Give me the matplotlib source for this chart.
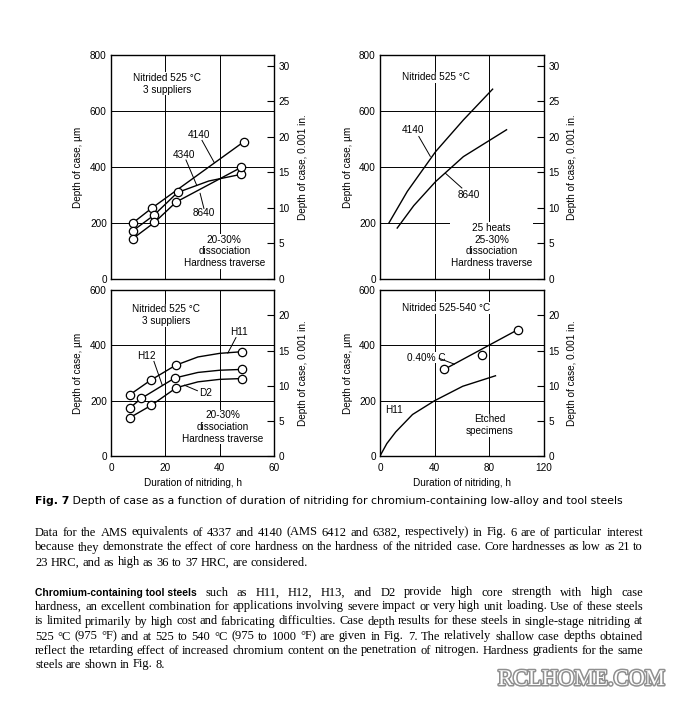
import matplotlib
matplotlib.use("Agg")
import matplotlib.pyplot as plt
import matplotlib.patheffects as pe

W, H = 676, 703

# ---- data (h, um) ----
# top left: low-alloy steels, 3 suppliers
tl_4140_h = [8, 15, 49]
tl_4140_um = [200, 253, 491]
tl_4340_h = [8, 15.7, 24.5, 48]
tl_4340_um = [172, 227, 309, 374]
tl_4340_curve_h = [8, 15.7, 24.5, 36, 48]
tl_4340_curve_um = [172, 227, 309, 350, 374]
tl_8640_h = [8, 16, 24, 48]
tl_8640_um = [144, 202, 275, 399]

# top right: 25 heats, curves only
tr_4140_h = [6.5, 20, 40.7, 61, 82.4]
tr_4140_um = [200, 313, 455, 568, 678]
tr_8640_h = [12.6, 24.7, 40.7, 61, 92.6]
tr_8640_um = [182, 262, 348, 437, 533]

# bottom left: tool steels
bl_h11_h = [7, 14.6, 23.8, 48.3]
bl_h11_um = [222, 274, 328, 377]
bl_h11_curve_h = [7, 14.6, 23.8, 32, 40, 48.3]
bl_h11_curve_um = [222, 274, 328, 358, 371, 377]
bl_h12_h = [7, 11.1, 23.5, 48.3]
bl_h12_um = [174, 208, 282, 313]
bl_h12_curve_h = [7, 11.1, 23.5, 32, 40, 48.3]
bl_h12_curve_um = [174, 208, 282, 302, 310, 313]
bl_d2_h = [7, 14.8, 24.1, 48.3]
bl_d2_um = [139, 183, 247, 280]
bl_d2_curve_h = [7, 14.8, 24.1, 32, 40, 48.3]
bl_d2_curve_um = [139, 183, 247, 268, 277, 280]

# bottom right: etched specimens
br_c40_h = [47, 74.7, 101]
br_c40_um = [313, 365, 457]
br_h11_h = [0, 5, 11.5, 23.8, 40, 60.5, 84.5]
br_h11_um = [0, 45, 87, 150, 200, 252, 290]

caption_bold = "Fig. 7"
caption_rest = " Depth of case as a function of duration of nitriding for chromium-containing low-alloy and tool steels"

para1 = [
    "Data for the AMS equivalents of 4337 and 4140 (AMS 6412 and 6382, respectively) in Fig. 6 are of particular interest",
    "because they demonstrate the effect of core hardness on the hardness of the nitrided case. Core hardnesses as low as 21 to",
    "23 HRC, and as high as 36 to 37 HRC, are considered.",
]
para2_bold = "Chromium-containing tool steels"
para2 = [
    "such as H11, H12, H13, and D2 provide high core strength with high case",
    "hardness, an excellent combination for applications involving severe impact or very high unit loading. Use of these steels",
    "is limited primarily by high cost and fabricating difficulties. Case depth results for these steels in single-stage nitriding at",
    "525 \u00b0C (975 \u00b0F) and at 525 to 540 \u00b0C (975 to 1000 \u00b0F) are given in Fig. 7. The relatively shallow case depths obtained",
    "reflect the retarding effect of increased chromium content on the penetration of nitrogen. Hardness gradients for the same",
    "steels are shown in Fig. 8.",
]

SANS = "Liberation Sans"
FS = 7.2

fig = plt.figure(figsize=(W / 100, H / 100), dpi=100)
renderer = fig.canvas.get_renderer()


def make_axes(x0, x1, y0, y1, xmax, ymax, xticks, bottom_labels):
    ax = fig.add_axes([x0 / W, 1 - y1 / H, (x1 - x0) / W, (y1 - y0) / H])
    ax.set_xlim(0, xmax)
    ax.set_ylim(0, ymax)
    ax.set_xticks(xticks)
    ax.set_yticks(range(0, ymax + 1, 200))
    ax.grid(True, color="black", lw=0.7)
    for s in ax.spines.values():
        s.set_linewidth(1.0)
    ax.tick_params(length=0, pad=3, labelsize=FS)
    if not bottom_labels:
        ax.set_xticklabels([])
    else:
        ax.tick_params(axis="x", pad=5)
    for lab in ax.get_xticklabels() + ax.get_yticklabels():
        lab.set_family(SANS)
    ax2 = ax.twinx()
    ax2.set_ylim(0, ymax / 25.4)
    ax2.set_yticks(range(0, int(ymax / 25.4) + 1, 5))
    ax2.tick_params(direction="in", length=5, width=0.8, pad=3, labelsize=FS)
    for lab in ax2.get_yticklabels():
        lab.set_family(SANS)
    for s in ax2.spines.values():
        s.set_visible(False)
    return ax


def label(ax, x, y, s, ls=1.25):
    ax.text(x, y, s, ha="center", va="center", fontsize=FS, family=SANS,
            linespacing=ls, zorder=5,
            bbox=dict(facecolor="white", edgecolor="none", pad=0.6))


def leader(ax, p0, p1):
    ax.plot([p0[0], p1[0]], [p0[1], p1[1]], color="black", lw=0.7, zorder=6)


def curve(ax, h, um):
    ax.plot(h, um, color="black", lw=1.0, zorder=3)


def circles(ax, h, um):
    ax.plot(h, um, "o", ms=6, mfc="white", mec="black", mew=0.9, zorder=4)


# ---- top left ----
ax = make_axes(111, 274, 55, 279, 60, 800, [20, 40], False)
curve(ax, tl_4140_h, tl_4140_um)
curve(ax, tl_4340_curve_h, tl_4340_curve_um)
curve(ax, tl_8640_h, tl_8640_um)
circles(ax, tl_4140_h, tl_4140_um)
circles(ax, tl_4340_h, tl_4340_um)
circles(ax, tl_8640_h, tl_8640_um)
label(ax, 20.6, 698, "Nitrided 525 \u00b0C\n3 suppliers")
label(ax, 32.5, 515, "4140")
leader(ax, (33.5, 495), (38, 416))
label(ax, 26.7, 443, "4340")
leader(ax, (27.6, 425), (31.5, 336))
label(ax, 34.3, 235, "8640")
leader(ax, (34.2, 252), (32.8, 306))
label(ax, 41.7, 99, "20-30%\ndissociation\nHardness traverse", 1.2)

# ---- top right ----
ax = make_axes(380, 544, 55, 279, 120, 800, [40, 80], False)
curve(ax, tr_4140_h, tr_4140_um)
curve(ax, tr_8640_h, tr_8640_um)
label(ax, 40.7, 720, "Nitrided 525 \u00b0C")
label(ax, 24, 532, "4140")
leader(ax, (28.4, 509), (36.8, 438))
label(ax, 64.7, 301, "8640")
leader(ax, (59.9, 325), (47.8, 378))
label(ax, 81.7, 120, "25 heats\n25-30%\ndissociation\nHardness traverse", 1.2)

# ---- bottom left ----
ax = make_axes(111, 274, 290, 456, 60, 600, [0, 20, 40, 60], True)
curve(ax, bl_h11_curve_h, bl_h11_curve_um)
curve(ax, bl_h12_curve_h, bl_h12_curve_um)
curve(ax, bl_d2_curve_h, bl_d2_curve_um)
circles(ax, bl_h11_h, bl_h11_um)
circles(ax, bl_h12_h, bl_h12_um)
circles(ax, bl_d2_h, bl_d2_um)
label(ax, 20.4, 508, "Nitrided 525 \u00b0C\n3 suppliers")
label(ax, 47.3, 447, "H11")
leader(ax, (46, 428), (43, 372))
label(ax, 13, 361, "H12")
leader(ax, (15.8, 342), (18.9, 255))
label(ax, 34.9, 226, "D2")
leader(ax, (31.8, 236), (27, 256))
label(ax, 41.1, 105, "20-30%\ndissociation\nHardness traverse", 1.2)

# ---- bottom right ----
ax = make_axes(380, 544, 290, 456, 120, 600, [0, 40, 80, 120], True)
curve(ax, [br_c40_h[0], br_c40_h[-1]], [br_c40_um[0], br_c40_um[-1]])
circles(ax, br_c40_h, br_c40_um)
curve(ax, br_h11_h, br_h11_um)
label(ax, 48.2, 534, "Nitrided 525-540 \u00b0C")
label(ax, 33.6, 356, "0.40% C")
leader(ax, (43.3, 353), (54.4, 332))
label(ax, 10.3, 168, "H11")
label(ax, 80, 111, "Etched\nspecimens", 1.2)

# axis titles
for xl, xr in [(78, 303), (348, 572)]:
    for yc in [167, 373]:
        fig.text(xl / W, 1 - yc / H, "Depth of case, \u00b5m", rotation=90,
                 ha="center", va="center", fontsize=FS, family=SANS)
        fig.text(xr / W, 1 - yc / H, "Depth of case, 0.001 in.", rotation=90,
                 ha="center", va="center", fontsize=FS, family=SANS)
for xc in [192.5, 462]:
    fig.text(xc / W, 1 - 483 / H, "Duration of nitriding, h", ha="center",
             va="center", fontsize=FS, family=SANS)


# ---- caption and body text ----
def width_of(t):
    return t.get_window_extent(renderer).width


def put(x, y, s, **kw):
    return fig.text(x / W, 1 - y / H, s, va="baseline", **kw)


def natural_width(s, **kw):
    t = put(0, -50, s, **kw)
    w = width_of(t)
    t.remove()
    return w


# caption fitted to its printed width
cb = put(35, 503.5, caption_bold, family="DejaVu Sans", weight="bold", fontsize=10)
cr = put(35, 503.5, caption_rest, family="DejaVu Sans", fontsize=10)
scale = 587 / (width_of(cb) + width_of(cr))
cb.set_fontsize(10 * scale)
cr.set_fontsize(10 * scale)
cr.set_x((35 + width_of(cb)) / W)

# body font size: the full lines fill the 608 px column with plain spaces
LINE_W = 608
full_lines = [para1[0], para1[1]] + para2[1:5]
body_fs = min(10 * LINE_W / natural_width(s, family="Liberation Serif", fontsize=10)
              for s in full_lines)
space_w = (natural_width("x x", family="Liberation Serif", fontsize=body_fs)
           - natural_width("xx", family="Liberation Serif", fontsize=body_fs))
bold_fs = 10 * 160 / natural_width(para2_bold, family=SANS,
                                   weight="bold", fontsize=10)


def body_line(y, words, justify, x0=35, x1=35 + LINE_W):
    texts = []
    for w, kw in words:
        texts.append(put(x0, y, w, **kw))
    widths = [width_of(t) for t in texts]
    if justify and len(texts) > 1:
        gap = (x1 - x0 - sum(widths)) / (len(texts) - 1)
    else:
        gap = space_w
    x = x0
    for t, w in zip(texts, widths):
        t.set_x(x / W)
        x += w + gap


serif = dict(family="Liberation Serif", fontsize=body_fs)
bold = dict(family=SANS, weight="bold", fontsize=bold_fs)

for i, (line, yc) in enumerate(zip(para1, [532, 547, 562])):
    words = [(w, serif) for w in line.split(" ")]
    body_line(yc + 3.5, words, i < len(para1) - 1)

for i, (line, yc) in enumerate(zip(para2, [592, 606, 621, 636, 650, 664])):
    words = [(w, serif) for w in line.split(" ")]
    if i == 0:
        words = [(para2_bold, bold)] + words
    body_line(yc + 3.5, words, i < len(para2) - 1)

# watermark
wm = put(498, 685, "RCLHOME.COM", family="Liberation Serif", fontsize=18,
         color="white",
         path_effects=[pe.Stroke(linewidth=2.2, foreground="#8f8f8f"), pe.Normal()])
wm.set_fontsize(18 * 167 / width_of(wm))

fig.savefig("out.png", dpi=100, facecolor="white")
